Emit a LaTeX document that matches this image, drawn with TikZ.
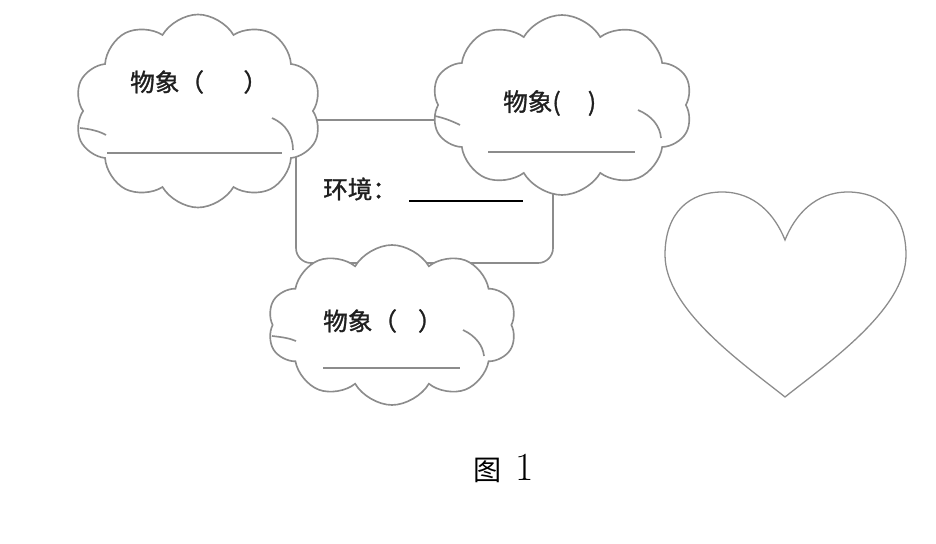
\documentclass[tikz,border=0pt]{standalone}
\usepackage{fontspec}
\newfontfamily\cjk{Noto Sans CJK SC}[FakeBold=1.2]
\newfontfamily\cjkplain{Noto Sans CJK SC}
\usetikzlibrary{shapes.symbols}

\begin{document}
\begin{tikzpicture}[x=0.03cm,y=-0.03cm,
    outline/.style={draw=black!45,line width=1.4pt},
    bubble/.style={outline,cloud,cloud puffs=10,cloud puff arc=120,fill=white,inner sep=0pt},
    tag/.style={font=\cjk\fontsize{21}{21}\selectfont,text=black!88,inner sep=0pt},
    blank/.style={draw=black!45,line width=1.2pt}]
  \useasboundingbox (0,0) rectangle (936,544);
  % 环境框
  \node[outline,rounded corners=0.45cm,minimum width=7.71cm,minimum height=4.29cm] (env) at (424.5,191.5) {};
  % 三朵云
  \node[bubble,minimum width=7.41cm,minimum height=5.79cm] (objL) at (198,111) {};
  \node[bubble,minimum width=7.83cm,minimum height=5.4cm] (objR) at (562,105) {};
  \node[bubble,minimum width=7.47cm,minimum height=4.8cm] (objB) at (392,325) {};
  % 云内的小弧
  \draw[outline] (272,118) .. controls (286,124) and (293,136) .. (293,150);
  \draw[outline] (80,128) .. controls (90,129) and (99,131) .. (106,135);
  \draw[outline] (638,110) .. controls (652,116) and (660,126) .. (661,138);
  \draw[outline] (435,116) .. controls (444,118) and (452,121) .. (460,125);
  \draw[outline] (463,330) .. controls (476,336) and (483,346) .. (484,356);
  \draw[outline] (272,336) .. controls (281,337) and (289,338) .. (296,341);
  % 文字与横线
  \node[tag,anchor=west] (tagL) at (130,82) {物象（\hspace{1.6em}）};
  \coordinate (lineLa) at (107,153);
  \coordinate (lineLb) at (282,153);
  \draw[blank] (lineLa) -- (lineLb);
  \node[tag,anchor=west] (tagR) at (503,103) {物象(\hspace{1.1em})};
  \coordinate (lineRa) at (488,152);
  \coordinate (lineRb) at (635,152);
  \draw[blank] (lineRa) -- (lineRb);
  \node[tag,anchor=west] (tagB) at (323,321) {物象（\hspace{0.85em}）};
  \coordinate (lineBa) at (323,368);
  \coordinate (lineBb) at (460,368);
  \draw[blank] (lineBa) -- (lineBb);
  \node[tag,anchor=west] (tagE) at (323,189) {环境：};
  \coordinate (lineEa) at (409,201);
  \coordinate (lineEb) at (523,201);
  \draw[line width=1.8pt] (lineEa) -- (lineEb);
  % 心形
  \draw[outline,line width=1.1pt] (785,397) .. controls (745,365) and (665,310) .. (665,255)
        .. controls (665,212) and (690,192) .. (722,192)
        .. controls (755,192) and (775,215) .. (785,240)
        .. controls (795,215) and (815,192) .. (848,192)
        .. controls (880,192) and (906,212) .. (906,255)
        .. controls (906,310) and (825,365) .. (785,397) -- cycle;
  % 图题
  \node[inner sep=0pt,anchor=west] (caption) at (473,468) {\cjkplain\fontsize{24}{24}\selectfont 图\hspace{0.5em}\fontspec{Latin Modern Roman}\fontsize{34}{34}\selectfont 1};
\end{tikzpicture}
\end{document}
